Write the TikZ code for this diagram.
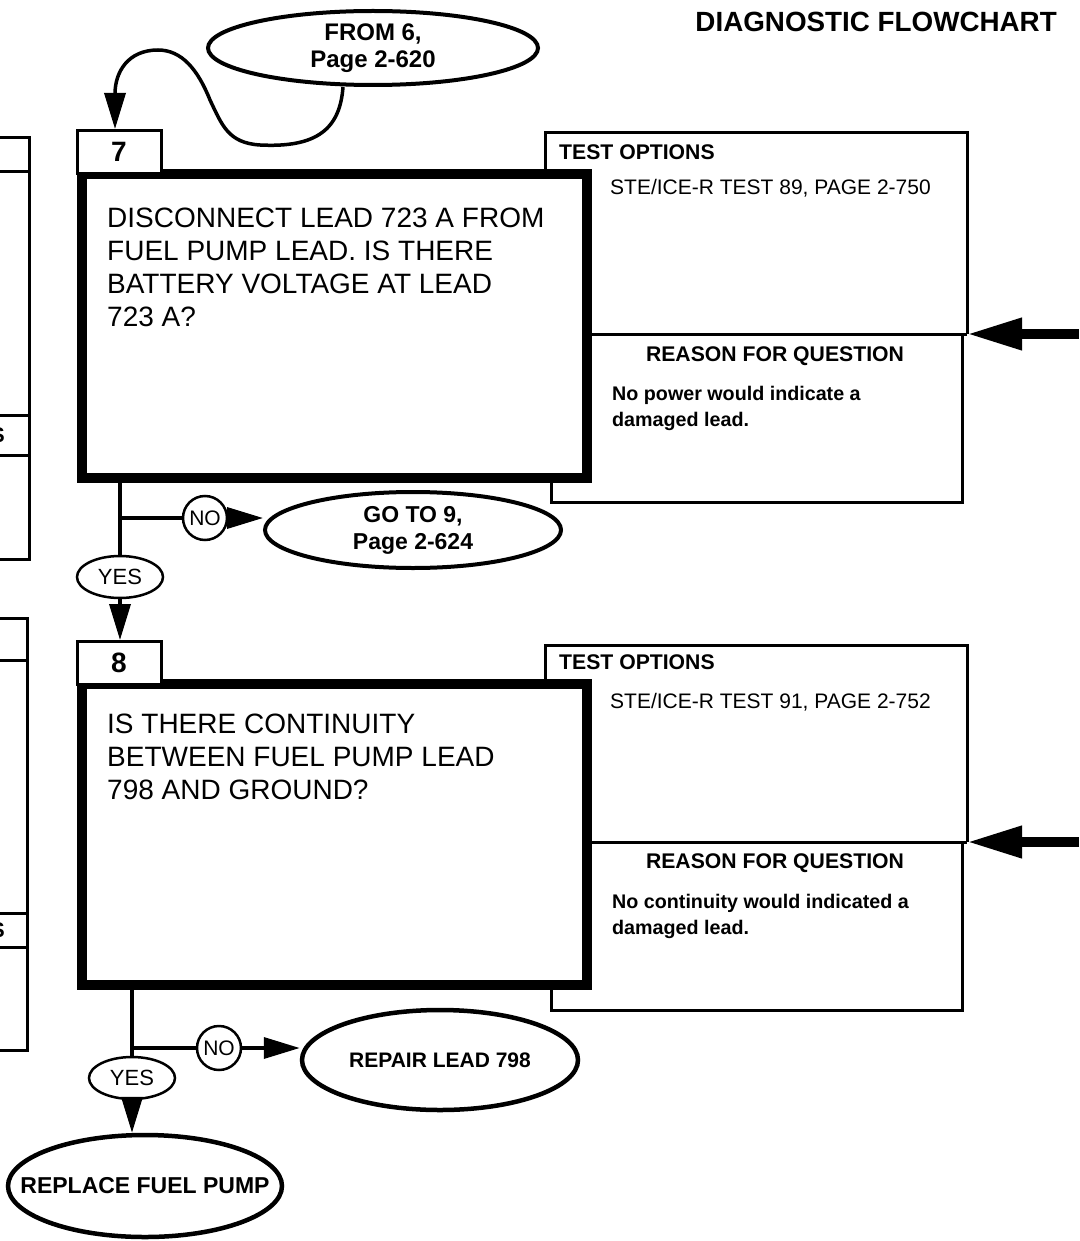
\documentclass[tikz,border=0pt]{standalone}
\usepackage{fontspec}
\setmainfont{Liberation Sans}
\usetikzlibrary{arrows.meta,shapes.geometric}
\tikzset{
  wire/.style={line width=3.5pt},
  flow/.style={wire,-{Triangle[length=36pt,width=21pt]}},
  push/.style={line width=10pt,-{Triangle[length=55pt,width=30pt]}},
  oval/.style={ellipse,draw,line width=4pt,align=center,inner sep=0pt,font=\bfseries\fontsize{23}{27}\selectfont},
  tag/.style={ellipse,draw,line width=2.5pt,fill=white,inner sep=0pt,minimum width=86pt,minimum height=42pt,font=\fontsize{22}{22}\selectfont},
  nobub/.style={circle,draw,line width=2.5pt,fill=white,inner sep=0pt,minimum size=44pt,font=\fontsize{21}{21}\selectfont},
  numbox/.style={draw,line width=3pt,fill=white,inner sep=0pt,minimum width=84pt,minimum height=43pt,font=\bfseries\fontsize{28}{28}\selectfont},
  qbox/.style={draw,line width=10pt,fill=white,inner sep=0pt,minimum width=505pt},
  qtext/.style={anchor=west,align=left,inner sep=0pt,font=\fontsize{28}{33}\selectfont},
  optbox/.style={line width=3pt},
  head/.style={inner sep=0pt,font=\bfseries\fontsize{21.2}{24}\selectfont},
  small/.style={anchor=west,inner sep=0pt,font=\fontsize{21}{24}\selectfont},
  why/.style={anchor=west,align=left,inner sep=0pt,font=\bfseries\fontsize{19.7}{26}\selectfont}
}
\begin{document}
\begin{tikzpicture}[x=1pt,y=-1pt]
\path[use as bounding box,fill=white] (0,0) rectangle (1079,1241);
\node[anchor=east,inner sep=0pt,font=\bfseries\fontsize{27.8}{30}\selectfont] (title) at (1057,22) {DIAGNOSTIC FLOWCHART};

\draw[optbox] (-5,138) -- (29,138) -- (29,559) -- (-5,559);
\draw[optbox] (-5,172) -- (29,172) (-5,415) -- (29,415) (-5,455) -- (29,455);
\node[head,anchor=east] (cut7) at (5,435) {S};
\draw[optbox] (-5,618) -- (27,618) -- (27,1050) -- (-5,1050);
\draw[optbox] (-5,660) -- (27,660) (-5,913) -- (27,913) (-5,947) -- (27,947);
\node[head,anchor=east] (cut8) at (5,930) {S};

\draw[optbox] (545,200) -- (545,133) -- (967,133) -- (967,334);
\draw[optbox] (551,460) -- (551,502) -- (962,502) -- (962,334);
\node[qbox,minimum height=304pt] (q7) at (334,326) {};
\node[numbox] (s7) at (119,152) {7};
\draw[optbox] (q7.east |- 0,334) -- (967,334);
\node[qtext] (t7) at (107,267) {DISCONNECT LEAD 723 A FROM\\FUEL PUMP LEAD. IS THERE\\BATTERY VOLTAGE AT LEAD\\723 A?};
\node[head,anchor=west] (opt7) at (559,152) {TEST OPTIONS};
\node[small] (ste7) at (610,188) {STE/ICE-R TEST 89, PAGE 2-750};
\node[head] (rq7) at (775,356) {REASON FOR QUESTION};
\node[why] (why7) at (612,408) {No power would indicate a\\damaged lead.};
\coordinate (in7) at (1079,334);
\coordinate (edge7) at (967,334);
\draw[push] (in7) -- (edge7);

\node[oval,font=\bfseries\fontsize{24}{27}\selectfont,minimum width=330pt,minimum height=74pt] (from6) at (373,48) {FROM 6,\\Page 2-620};
\draw[flow] ([xshift=-30pt]from6.south) .. controls (340,128) and (318,148) .. (260,145) .. controls (228,143) and (222,125) .. (210,100) .. controls (198,70) and (182,50) .. (158,50) .. controls (128,50) and (115,72) .. ([xshift=-4pt]s7.north);

\node[nobub] (no7) at (205,518) {NO};
\node[tag] (yes7) at (120,577) {YES};
\node[oval,minimum width=296pt,minimum height=76pt] (go9) at (413,530) {GO TO 9,\\Page 2-624};
\draw[wire] (q7.south -| yes7.north) -- (yes7.north);
\draw[wire] (yes7.north |- no7) -- (no7.west);
\draw[flow] (no7.east) -- (no7 -| go9.west);

\draw[optbox] (545,710) -- (545,645) -- (967,645) -- (967,842);
\draw[optbox] (551,960) -- (551,1010) -- (962,1010) -- (962,842);
\node[qbox,minimum height=301pt] (q8) at (334,834.5) {};
\node[numbox] (s8) at (119,663) {8};
\draw[flow] (yes7.south) -- (yes7.south |- s8.north);
\draw[optbox] (q8.east |- 0,842) -- (967,842);
\node[qtext] (t8) at (107,757) {IS THERE CONTINUITY\\BETWEEN FUEL PUMP LEAD\\798 AND GROUND?};
\node[head,anchor=west] (opt8) at (559,662) {TEST OPTIONS};
\node[small] (ste8) at (610,702) {STE/ICE-R TEST 91, PAGE 2-752};
\node[head] (rq8) at (775,863) {REASON FOR QUESTION};
\node[why] (why8) at (612,916) {No continuity would indicated a\\damaged lead.};
\coordinate (in8) at (1079,842);
\coordinate (edge8) at (967,842);
\draw[push] (in8) -- (edge8);

\node[tag] (yes8) at (132,1078) {YES};
\node[nobub] (no8) at (219,1048) {NO};
\node[oval,line width=4.5pt,font=\bfseries\fontsize{21}{27}\selectfont,minimum width=276pt,minimum height=100pt] (fix798) at (440,1060) {REPAIR LEAD 798};
\node[oval,line width=4.5pt,inner xsep=-30pt,minimum width=274pt,minimum height=102pt] (pump) at (145,1186) {REPLACE FUEL PUMP};
\draw[wire] (q8.south -| yes8.north) -- (yes8.north);
\draw[wire] (yes8.north |- no8) -- (no8.west);
\draw[flow] (no8.east) -- (no8 -| fix798.west);
\draw[flow] (yes8.south) -- (yes8.south |- pump.north);
\end{tikzpicture}
\end{document}
